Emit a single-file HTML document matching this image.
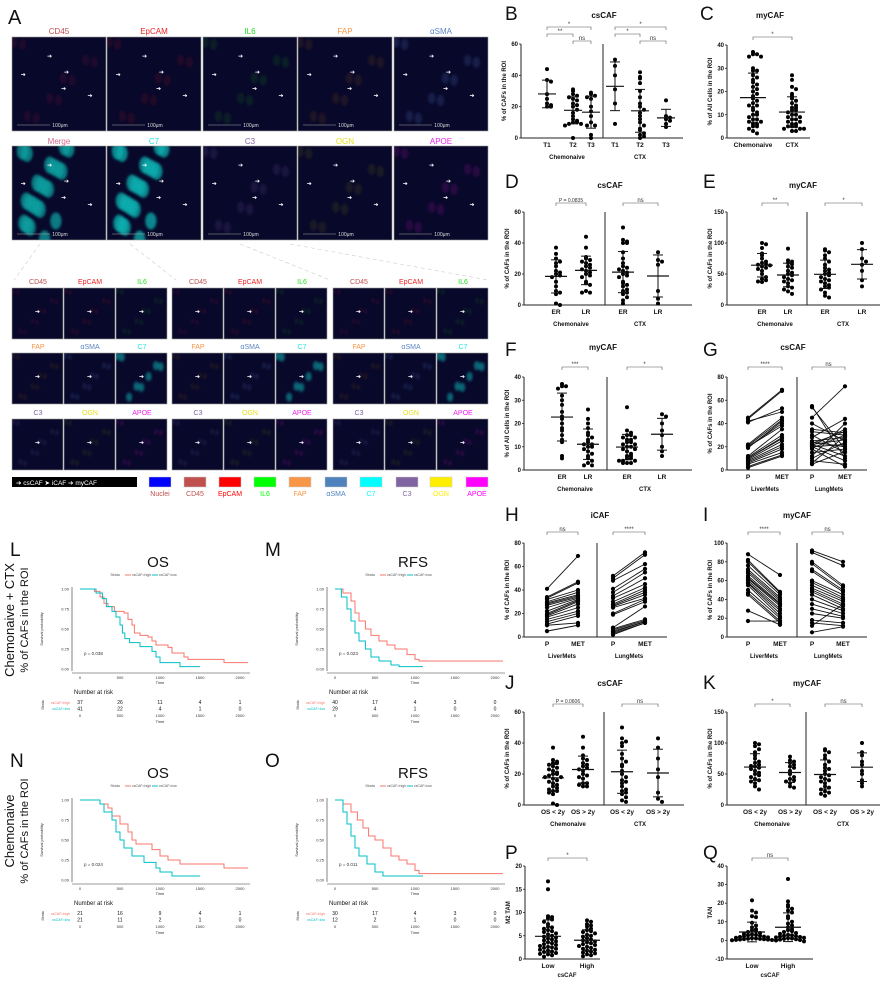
<!DOCTYPE html>
<html><head><meta charset="utf-8"><style>
html,body{margin:0;padding:0;background:#fff}
svg{display:block;font-family:"Liberation Sans",Arial,sans-serif}
</style></head><body>
<svg id="fig" width="882" height="984" viewBox="0 0 882 984" xmlns="http://www.w3.org/2000/svg">
<defs id="defs">
<filter id="blur" x="-20%" y="-20%" width="140%" height="140%"><feGaussianBlur stdDeviation="1.2"/></filter>
</defs>
<g id="panelA"></g>
<g id="charts"></g>
</svg>
<script>
// ---------- DATA ----------
const bT1C=[44,37,36,28,25,22,21,20,20];
const bT2C=[31,30,28,27,26,25,24,22,21,20,18,16,14,12,11,10,10,9,9,8,0];
const bT3C=[29,28,27,26,25,20,17,14,10,8,8,2,0];
const bT1X=[50,46,40,31,22,9];
const bT2X=[42,39,38,35,30,26,22,20,18,16,14,12,10,8,6,5,3,2,1,0];
const bT3X=[24,14,13,12,11,9,7];
const cN=[37,36,36,35,35,30,29,29,27,26,25,24,23,22,21,20,19,18,17,16,15,14,14,13,12,11,10,10,9,8,8,7,7,6,6,5,5,4,3,2];
const cX=[27,25,22,21,19,18,17,16,15,14,13,13,12,12,11,10,10,9,9,8,8,7,7,6,6,5,5,5,4,4,4,3,3];
const dERN=[37,33,30,28,27,25,22,21,20,19,18,15,12,9,8,7,1,0];
const dLRN=[44,37,31,30,29,28,27,26,25,24,23,22,21,20,19,18,15,14,13,9,8,8];
const dERX=[50,42,41,40,40,34,30,27,25,24,23,22,21,20,19,18,15,14,13,12,10,9,8,7,5,3,1];
const dLRX=[34,29,28,26,9,4,1];
const eERN=[100,98,92,83,80,75,70,68,66,65,64,62,60,58,55,50,45,42,40,38,37];
const eLRN=[91,72,70,68,66,62,60,55,52,50,48,45,42,40,38,35,30,28,25,22,18];
const eERX=[90,88,85,80,75,70,65,60,57,55,52,50,48,45,42,40,38,35,32,30,28,25,20,15,12];
const eLRX=[100,90,75,70,65,55,40,30];
const fERN=[37,36,36,35,32,30,28,25,23,22,20,18,17,15,13,12,6,5];
const fLRN=[26,22,20,18,16,15,14,13,12,11,11,10,10,9,8,7,6,5,4,3,2,2];
const fERX=[27,17,16,15,15,14,14,13,13,12,12,11,11,10,10,9,9,8,7,6,6,5,5,4,4,4,3,3,3];
const fLRX=[24,23,20,17,15,10,8,6];
const gLiverP=[45,44,42,41,22,21,20,20,19,12,11,10,10,9,8,7,6,5,3,2];
const gLiverM=[69,68,50,53,45,43,40,38,42,35,30,28,27,25,22,20,18,15,13,12];
const gLungP=[55,54,45,40,35,33,30,28,25,24,23,22,22,21,20,20,19,18,15,12,10,8,6,5];
const gLungM=[10,18,72,25,32,30,15,44,28,20,33,12,26,35,22,8,30,3,18,40,24,5,29,16];
const hLiverP=[41,34,33,32,30,29,28,27,25,22,20,19,18,17,15,13,11,10,5];
const hLiverM=[69,47,46,40,38,36,35,34,33,32,31,30,28,25,22,20,18,12,10];
const hLungP=[52,50,48,41,38,35,33,30,28,27,26,25,20,19,8,7,6,5,4,3,2];
const hLungM=[72,70,62,58,55,50,45,42,40,38,36,33,32,30,26,15,14,13,13,12,12];
const iLiverP=[88,82,80,76,72,70,68,65,63,62,60,58,57,55,50,47,45,28,17];
const iLiverM=[66,48,47,45,42,40,38,36,35,33,30,28,25,22,20,17,15,13,17];
const iLungP=[92,90,80,78,72,70,60,58,55,52,50,48,45,40,35,30,25,18,15,12,5];
const iLungM=[80,76,55,53,50,48,45,42,40,38,35,33,30,28,25,22,20,15,12,35,11];
const jLtN=[37,29,28,27,27,26,25,24,23,22,21,20,20,19,18,18,17,16,15,14,13,12,11,10,9,9,8,7,1,0];
const jGtN=[44,37,32,30,29,27,26,25,24,23,22,20,19,18,17,14,14,13,12,12];
const jLtX=[50,43,41,40,38,33,30,28,26,25,22,20,18,16,15,14,12,10,9,8,7,5,3,2];
const jGtX=[43,37,30,23,18,8,4,2];
const kLtN=[100,98,95,90,85,80,75,70,68,65,63,62,60,58,55,52,50,48,45,42,40,38,35,30,25];
const kGtN=[78,72,70,68,65,62,60,55,50,45,42,40,38,35,30,28];
const kLtX=[90,88,85,80,75,70,65,60,58,55,50,48,45,42,40,38,35,30,28,25,22,20,18,15];
const kGtX=[100,85,80,70,65,55,50,40,35,30];
const pLow=[16.7,15,9.2,9,8.8,8.5,8,7.5,7,6.8,6.5,6.2,6,5.8,5.5,5.3,5,4.8,4.6,4.4,4.2,4,3.8,3.6,3.4,3.2,3,2.8,2.6,2.5,2.4,2.2,2,1.8,1.6,1.5,1.3,1.1,1,0.8,0.5];
const pHigh=[8.3,8,7.5,7.2,7,6.5,6.2,6,5.8,5.5,5.2,5,4.8,4.5,4.2,4,3.8,3.6,3.4,3.2,3,2.8,2.6,2.4,2.2,2,1.8,1.6,1.4,1.2,1,0.8,0.6];
const qLow=[21.5,16,15,13,12.5,9.5,8,7,6,5.5,5,4.5,4,3.5,3.2,3,2.8,2.5,2.2,2,1.8,1.6,1.4,1.2,1,0.9,0.8,0.7,0.6,0.5,0.4,0.3,0.2,0.1,0];
const qHigh=[33,21,19,18,17,16,15,13,12,10,9,8,7,6,5.5,5,4.5,4,3.5,3,2.8,2.5,2.2,2,1.8,1.6,1.4,1.2,1,0.8,0.6,0.4,0.2,0,-0.5];
// KM data
const kmLHiT=[0,180,250,300,350,430,550,600,650,680,750,850,900,950,1100,1150,1300,1350,1800,2100];
const kmLHiS=[1,0.97,0.9,0.82,0.78,0.72,0.7,0.62,0.55,0.45,0.42,0.4,0.35,0.3,0.27,0.2,0.15,0.12,0.08,0.08];
const kmLLoT=[0,200,280,330,400,450,500,530,560,620,750,900,950,1000,1250,1500];
const kmLLoS=[1,0.95,0.88,0.78,0.72,0.65,0.55,0.45,0.38,0.33,0.28,0.22,0.15,0.08,0.03,0.03];
const kmMHiT=[0,100,200,250,300,380,450,550,650,750,900,1000,1050,2100];
const kmMHiS=[1,0.95,0.85,0.7,0.6,0.5,0.42,0.35,0.3,0.25,0.18,0.12,0.1,0.1];
const kmMLoT=[0,80,150,200,250,300,380,450,550,700,800,1100];
const kmMLoS=[1,0.9,0.75,0.6,0.45,0.35,0.25,0.15,0.1,0.05,0.03,0.03];
const kmNHiT=[0,250,350,400,500,600,650,700,900,1000,1100,1250,1800,2100];
const kmNHiS=[1,0.95,0.9,0.8,0.7,0.6,0.5,0.45,0.38,0.3,0.25,0.2,0.15,0.15];
const kmNLoT=[0,250,300,400,450,500,550,650,800,950,1000,1150,1500];
const kmNLoS=[1,0.95,0.85,0.75,0.6,0.5,0.4,0.3,0.22,0.15,0.1,0.05,0.05];
const kmOHiT=[0,100,200,280,350,420,500,600,700,800,900,1000,1050,2100];
const kmOHiS=[1,0.95,0.85,0.75,0.65,0.55,0.5,0.4,0.3,0.25,0.2,0.12,0.08,0.08];
const kmOLoT=[0,100,150,200,250,300,400,500,600,1100];
const kmOLoS=[1,0.85,0.7,0.55,0.4,0.3,0.2,0.1,0.05,0.05];
const riskL=[[37,26,11,4,1],[41,22,4,1,0]];
const riskM=[[40,17,4,3,0],[29,4,1,0,0]];
const riskN=[[21,16,9,4,1],[21,11,2,1,0]];
const riskO=[[30,17,4,3,0],[12,2,1,0,0]];
const kmTicks=[0,500,1000,1500,2000];
const survTicks=[0,0.25,0.5,0.75,1];

// ---------- HELPERS ----------
const NS="http://www.w3.org/2000/svg";
const charts=document.getElementById('charts');
const pA=document.getElementById('panelA');
const defs=document.getElementById('defs');
function el(tag,attrs,parent,text){const e=document.createElementNS(NS,tag);for(const k in attrs)e.setAttribute(k,attrs[k]);if(text!==undefined)e.textContent=text;(parent||charts).appendChild(e);return e;}
function txt(x,y,s,size,opt,parent){opt=opt||{};const t=el('text',{x:x,y:y,'font-size':size,'text-anchor':opt.anchor||'middle',fill:opt.fill||'#111','font-weight':opt.bold?'bold':'normal'},parent,s);if(opt.rot)t.setAttribute('transform','rotate(-90 '+x+' '+y+')');return t;}

// ---------- PANEL A (images) ----------
const tileCols=[12,107,203,298,394];
const row1=['CD45','EpCAM','IL6','FAP','αSMA'];
const row2=['Merge','C7','C3','OGN','APOE'];
const labCol={'CD45':'#c0504d','EpCAM':'#ee2222','IL6':'#22dd22','FAP':'#f79646','αSMA':'#5b86c5','Merge':'#d46a8a','C7':'#22e5e5','C3':'#8064a2','OGN':'#e8e020','APOE':'#ee22ee'};
const tint={'CD45':'#3a1030','EpCAM':'#401028','IL6':'#103a20','FAP':'#3a2520','αSMA':'#2a3a70','Merge':'#10a0a0','C7':'#10b0b0','C3':'#30285a','OGN':'#303020','APOE':'#501060'};
let clipN=0;
function tile(x,y,w,h,name,big){
  const g=el('g',{},pA);
  
  
  const id='clip'+(clipN++);
  const cp=el('clipPath',{id:id},defs);el('rect',{x:x,y:y,width:w,height:h},cp);
  const inner=el('g',{'clip-path':'url(#'+id+')'},g);
  el('rect',{x:x,y:y,width:w,height:h,fill:'#08082a'},inner);
  const c=tint[name];
  const strong=(name==='Merge'||name==='C7');
  const n=strong?(big?22:8):10;
  for(let i=0;i<n;i++){
    const fx=((i*37+11)%97)/97, fy=((i*53+7)%89)/89;
    const cx=strong&&big? x+w*(0.1+0.55*fx*(1-fy*0.4)) : x+w*fx;
    const cy=y+h*fy;
    el('ellipse',{cx:cx,cy:cy,rx:w*(strong?0.06:0.04),ry:h*(strong?0.09:0.06),fill:c,opacity:strong?(big?0.75:0.55):0.45,filter:'url(#blur)'},inner);
  }
  el('rect',{x:x,y:y,width:w,height:h,fill:'none',stroke:'#999','stroke-width':0.6},g);
  if(big){el('line',{x1:x+5,y1:y+h-6,x2:x+38,y2:y+h-6,stroke:'#aaa','stroke-width':0.6},g);txt(x+48,y+h-4,'100μm',5,{fill:'#ddd'},g);
    [[0.4,0.2],[0.12,0.4],[0.58,0.37],[0.55,0.55],[0.83,0.62]].forEach(p=>txt(x+w*p[0],y+h*p[1]+2,'➔',6,{fill:'#fff'},g));}
  else{txt(x+w*0.5,y+h*0.5,'➔',6,{fill:'#fff'},g);}
}
txt(8,24,'A',20,{anchor:'start'},pA);
row1.forEach((n,i)=>{txt(tileCols[i]+47,34,n,8,{fill:labCol[n]},pA);tile(tileCols[i],37,94,94,n,true);});
row2.forEach((n,i)=>{txt(tileCols[i]+47,144,n,8,{fill:labCol[n]},pA);tile(tileCols[i],146,94,94,n,true);});
[[40,244,14,280],[130,244,176,280],[240,244,330,280],[290,244,488,280]].forEach(l=>el('line',{x1:l[0],y1:l[1],x2:l[2],y2:l[3],stroke:'#ccc','stroke-width':0.6,'stroke-dasharray':'4 3'},pA));
const subGroups=[12,172,333];
const subRows=[['CD45','EpCAM','IL6'],['FAP','αSMA','C7'],['C3','OGN','APOE']];
const subY=[288,353,419];
subGroups.forEach(gx=>subRows.forEach((r,ri)=>r.forEach((n,ci)=>{const x=gx+ci*52;txt(x+26,subY[ri]-4,n,7,{fill:labCol[n]},pA);tile(x,subY[ri],51,51,n,false);})));
const leg=el('g',{},pA);
el('rect',{x:12,y:477,width:125,height:10,fill:'#000'},leg);
txt(16,485,'➔ csCAF   ➤ iCAF   ➔ myCAF',6.5,{anchor:'start',fill:'#fff'},leg);
const swNames=['Nuclei','CD45','EpCAM','IL6','FAP','αSMA','C7','C3','OGN','APOE'];
const swCols=['#0000ff','#c0504d','#ff0000','#00ff00','#f79646','#4f81bd','#00ffff','#8064a2','#ffee00','#ff00ff'];
const swX=[149,184,219,254,289,325,360,396,430,466];
swNames.forEach((n,i)=>{const s=el('rect',{x:swX[i],y:477,width:22,height:10,fill:swCols[i],stroke:'#ccc','stroke-width':0.5},pA);txt(swX[i]+11,496,n,7,{fill:n==='Nuclei'?'#c0504d':swCols[i]},pA);});

// ---------- SCATTER PANELS ----------
function panelFrame(p,g){
  const y=v=>p.yb-(v-p.ymin)/(p.ymax-p.ymin)*(p.yb-p.yt);
  el('line',{x1:p.x0,y1:p.yt,x2:p.x0,y2:p.yb,stroke:'#222','stroke-width':1},g);
  el('line',{x1:p.x0,y1:p.yb,x2:p.x1,y2:p.yb,stroke:'#222','stroke-width':1},g);
  p.ticks.forEach(t=>{el('line',{x1:p.x0-2,y1:y(t),x2:p.x0,y2:y(t),stroke:'#222','stroke-width':0.8},g);txt(p.x0-3,y(t)+2,String(t),6,{anchor:'end',bold:true},g);});
  if(p.div)el('line',{x1:p.div,y1:p.yt,x2:p.div,y2:p.yb,stroke:'#222','stroke-width':1},g);
  txt(p.x0-15,(p.yt+p.yb)/2,p.ylab,6,{rot:true,bold:true},g);
  txt(p.tx,p.ty,p.title,8,{bold:true},g);
  txt(p.lx,p.ly+6,p.letter,19,{anchor:'start'},g);
  p.cx.forEach((x,i)=>txt(x,p.yb+9,p.xl[i],6.5,{bold:true},g));
  (p.gl||[]).forEach(gg=>txt(gg[0],p.yb+(p.gly||21),gg[1],6,{bold:true},g));
  (p.sig||[]).forEach(s=>{const a=p.cx[s[0]],b=p.cx[s[1]];el('path',{d:`M${a} ${s[3]+3}V${s[3]}H${b}V${s[3]+3}`,fill:'none',stroke:'#555','stroke-width':0.6},g);txt((a+b)/2,s[3]-1,s[2],s[2].length>4?5:6,{fill:'#333'},g);});
  return y;
}
function scatterPanel(p){
  const g=el('g',{});
  const y=panelFrame(p,g);
  p.groups.forEach((vals,i)=>{
    const cx=p.cx[i];const bins={};
    vals.forEach(v=>{const yy=y(v);const b=Math.round(yy/4);bins[b]=(bins[b]||0)+1;const k=bins[b]-1;const off=(k%2?1:-1)*Math.ceil(k/2)*4;
      const d=el('circle',{cx:cx+(k===0?0:off),cy:yy,r:2,fill:'#000'},g);
      });
    const m=vals.reduce((a,b)=>a+b,0)/vals.length;const sd=Math.sqrt(vals.reduce((a,b)=>a+(b-m)*(b-m),0)/(vals.length-1));
    const hw=p.mw||11;
    el('line',{x1:cx-hw,y1:y(m),x2:cx+hw,y2:y(m),stroke:'#111','stroke-width':1.2},g);
    el('line',{x1:cx,y1:y(m+sd),x2:cx,y2:y(Math.max(m-sd,p.ymin)),stroke:'#111','stroke-width':1},g);
    el('line',{x1:cx-5,y1:y(m+sd),x2:cx+5,y2:y(m+sd),stroke:'#111','stroke-width':1},g);
    if(m-sd>p.ymin)el('line',{x1:cx-5,y1:y(m-sd),x2:cx+5,y2:y(m-sd),stroke:'#111','stroke-width':1},g);
  });
}
function pairedPanel(p){
  const g=el('g',{});
  const y=panelFrame(p,g);
  p.pairs.forEach((pr,j)=>{const a=p.cx[j*2],b=p.cx[j*2+1];
    pr[0].forEach((v,i)=>{const w=pr[1][i];
      const ln=el('line',{x1:a,y1:y(v),x2:b,y2:y(w),stroke:'#111','stroke-width':0.9},g);
      
      el('circle',{cx:a,cy:y(v),r:2.1,fill:'#000'},g);el('circle',{cx:b,cy:y(w),r:2.1,fill:'#000'},g);});});
}
const YL1='% of CAFs in the ROI',YL2='% of All Cells in the ROI';
scatterPanel({letter:'B',lx:505,ly:14,title:'csCAF',tx:604,ty:18,x0:521,x1:683,yt:44,yb:138,ymin:0,ymax:60,ticks:[0,20,40,60],div:603,cx:[547,573,591,615,640,666],xl:['T1','T2','T3','T1','T2','T3'],gl:[[567,'Chemonaive'],[640,'CTX']],ylab:YL1,mw:9,groups:[bT1C,bT2C,bT3C,bT1X,bT2X,bT3X],sig:[[0,2,'*',27],[0,1,'**',34],[1,2,'ns',41],[3,5,'*',27],[3,4,'*',34],[4,5,'ns',41]]});
scatterPanel({letter:'C',lx:700,ly:14,title:'myCAF',tx:770,ty:18,x0:727,x1:810,yt:45,yb:138,ymin:0,ymax:40,ticks:[0,10,20,30,40],cx:[753,792],xl:['Chemonaive','CTX'],ylab:YL2,mw:13,groups:[cN,cX],sig:[[0,1,'*',37]]});
scatterPanel({letter:'D',lx:505,ly:182,title:'csCAF',tx:610,ty:188,x0:524,x1:692,yt:212,yb:305,ymin:0,ymax:60,ticks:[0,20,40,60],div:605,cx:[556,586,623,658],xl:['ER','LR','ER','LR'],gl:[[571,'Chemonaive'],[640,'CTX']],ylab:YL1,groups:[dERN,dLRN,dERX,dLRX],sig:[[0,1,'P = 0.0835',203],[2,3,'ns',203]]});
scatterPanel({letter:'E',lx:703,ly:182,title:'myCAF',tx:803,ty:188,x0:727,x1:880,yt:212,yb:305,ymin:0,ymax:150,ticks:[0,50,100,150],div:807,cx:[762,788,825,862],xl:['ER','LR','ER','LR'],gl:[[775,'Chemonaive'],[843,'CTX']],ylab:YL1,groups:[eERN,eLRN,eERX,eLRX],sig:[[0,1,'**',203],[2,3,'*',203]]});
scatterPanel({letter:'F',lx:505,ly:350,title:'myCAF',tx:603,ty:350,x0:524,x1:692,yt:377,yb:470,ymin:0,ymax:40,ticks:[0,10,20,30,40],div:607,cx:[562,588,627,662],xl:['ER','LR','ER','LR'],gl:[[575,'Chemonaive'],[645,'CTX']],ylab:YL2,groups:[fERN,fLRN,fERX,fLRX],sig:[[0,1,'***',367],[2,3,'*',367]]});
pairedPanel({letter:'G',lx:703,ly:350,title:'csCAF',tx:793,ty:350,x0:727,x1:867,yt:377,yb:470,ymin:0,ymax:80,ticks:[0,20,40,60,80],div:797,cx:[748,782,812,845],xl:['P','MET','P','MET'],gl:[[765,'LiverMets'],[829,'LungMets']],ylab:YL1,pairs:[[gLiverP,gLiverM],[gLungP,gLungM]],sig:[[0,1,'****',367],[2,3,'ns',367]]});
pairedPanel({letter:'H',lx:505,ly:515,title:'iCAF',tx:600,ty:518,x0:524,x1:667,yt:543,yb:637,ymin:0,ymax:80,ticks:[0,20,40,60,80],div:597,cx:[547,578,613,645],xl:['P','MET','P','MET'],gl:[[562,'LiverMets'],[629,'LungMets']],ylab:YL1,pairs:[[hLiverP,hLiverM],[hLungP,hLungM]],sig:[[0,1,'ns',532],[2,3,'****',532]]});
pairedPanel({letter:'I',lx:703,ly:515,title:'myCAF',tx:797,ty:518,x0:727,x1:867,yt:543,yb:637,ymin:0,ymax:100,ticks:[0,20,40,60,80,100],div:797,cx:[748,780,812,843],xl:['P','MET','P','MET'],gl:[[764,'LiverMets'],[828,'LungMets']],ylab:YL1,pairs:[[iLiverP,iLiverM],[iLungP,iLungM]],sig:[[0,1,'****',532],[2,3,'ns',532]]});
scatterPanel({letter:'J',lx:505,ly:683,title:'csCAF',tx:610,ty:686,x0:524,x1:684,yt:712,yb:805,ymin:0,ymax:60,ticks:[0,20,40,60],div:604,cx:[553,583,622,658],xl:['OS < 2y','OS > 2y','OS < 2y','OS > 2y'],gl:[[568,'Chemonaive'],[640,'CTX']],ylab:YL1,groups:[jLtN,jGtN,jLtX,jGtX],sig:[[0,1,'P = 0.0606',704],[2,3,'ns',704]]});
scatterPanel({letter:'K',lx:703,ly:683,title:'myCAF',tx:807,ty:686,x0:727,x1:880,yt:712,yb:805,ymin:0,ymax:150,ticks:[0,50,100,150],div:806,cx:[755,790,825,862],xl:['OS < 2y','OS > 2y','OS < 2y','OS > 2y'],gl:[[772,'Chemonaive'],[843,'CTX']],ylab:YL1,groups:[kLtN,kGtN,kLtX,kGtX],sig:[[0,1,'*',704],[2,3,'ns',704]]});
scatterPanel({letter:'P',lx:505,ly:853,title:'',tx:0,ty:0,x0:525,x1:600,yt:866,yb:959,ymin:0,ymax:20,ticks:[0,5,10,15,20],cx:[548,587],xl:['Low','High'],gl:[[567,'csCAF']],gly:18,ylab:'M2 TAM',mw:13,groups:[pLow,pHigh],sig:[[0,1,'*',858]]});
scatterPanel({letter:'Q',lx:703,ly:853,title:'',tx:0,ty:0,x0:727,x1:813,yt:866,yb:959,ymin:-10,ymax:40,ticks:[-10,0,10,20,30,40],cx:[752,788],xl:['Low','High'],gl:[[770,'csCAF']],gly:18,ylab:'TAN',mw:13,groups:[qLow,qHigh],sig:[[0,1,'ns',858]]});

// ---------- KM PLOTS ----------
function km(o){
  const g=el('g',{});
  const ox=o.ox,oy=o.oy;
  const X=t=>ox+80+t*0.08, Y=s=>oy+669-s*80;
  txt(ox+10,oy+556,o.letter,19,{anchor:'start'},g);
  txt(ox+158,oy+567,o.title,15,{},g);
  txt(ox+115,oy+576,'Strata',3.5,{fill:'#555'},g);
  el('line',{x1:ox+125,y1:oy+575,x2:ox+131,y2:oy+575,stroke:'#F8766D','stroke-width':1},g);txt(ox+132,oy+576,'csCAF=high',3.5,{anchor:'start',fill:'#555'},g);
  el('line',{x1:ox+152,y1:oy+575,x2:ox+158,y2:oy+575,stroke:'#00BFC4','stroke-width':1},g);txt(ox+159,oy+576,'csCAF=low',3.5,{anchor:'start',fill:'#555'},g);
  el('line',{x1:ox+72,y1:oy+587,x2:ox+72,y2:oy+671,stroke:'#333','stroke-width':0.6},g);
  el('line',{x1:ox+72,y1:oy+673,x2:ox+250,y2:oy+673,stroke:'#333','stroke-width':0.6},g);
  survTicks.forEach(s=>txt(ox+69,Y(s)+1.5,s.toFixed(2),4,{anchor:'end',fill:'#333'},g));
  kmTicks.forEach(t=>{txt(X(t),oy+679,String(t),4,{fill:'#333'},g);txt(X(t),oy+717,String(t),4,{fill:'#333'},g);});
  txt(X(1000),oy+684,'Time',4,{fill:'#333'},g);txt(X(1000),oy+723,'Time',4,{fill:'#333'},g);
  txt(ox+43,oy+629,'Survival probability',4,{rot:true,fill:'#333'},g);
  txt(ox+84,oy+655,'p = '+o.p,4.5,{anchor:'start',fill:'#333'},g);
  [[o.hiT,o.hiS,'#F8766D','km-high-curve'],[o.loT,o.loS,'#00BFC4','km-low-curve']].forEach(c=>{
    let d=`M${X(c[0][0])} ${Y(c[1][0])}`;
    for(let i=1;i<c[0].length;i++){d+=`H${X(c[0][i])}V${Y(c[1][i])}`;}
    const pth=el('path',{d:d,fill:'none',stroke:c[2],'stroke-width':1},g);
    });
  txt(ox+74,oy+694,'Number at risk',6,{anchor:'start'},g);
  txt(ox+44,oy+705,'Strata',3.5,{rot:true,fill:'#333'},g);
  txt(ox+70,oy+704,'csCAF=high',3.5,{anchor:'end',fill:'#F8766D'},g);
  txt(ox+70,oy+710,'csCAF=low',3.5,{anchor:'end',fill:'#00BFC4'},g);
  o.risk.forEach((r,ri)=>r.forEach((v,i)=>txt(X(kmTicks[i]),oy+704+ri*6.5,String(v),5,{},g)));
  if(o.side){txt(ox+14,oy+o.sideY,o.side,13,{rot:true},g);txt(ox+28,oy+o.sideY,'% of CAFs in the ROI',11,{rot:true},g);}
}
km({letter:'L',ox:0,oy:0,title:'OS',p:'0.038',hiT:kmLHiT,hiS:kmLHiS,loT:kmLLoT,loS:kmLLoS,risk:riskL,side:'Chemonaive + CTX',sideY:620});
km({letter:'M',ox:255,oy:0,title:'RFS',p:'0.023',hiT:kmMHiT,hiS:kmMHiS,loT:kmMLoT,loS:kmMLoS,risk:riskM});
km({letter:'N',ox:0,oy:211,title:'OS',p:'0.024',hiT:kmNHiT,hiS:kmNHiS,loT:kmNLoT,loS:kmNLoS,risk:riskN,side:'Chemonaive',sideY:620});
km({letter:'O',ox:255,oy:211,title:'RFS',p:'0.011',hiT:kmOHiT,hiS:kmOHiS,loT:kmOLoT,loS:kmOLoS,risk:riskO});
</script>
</body></html>
